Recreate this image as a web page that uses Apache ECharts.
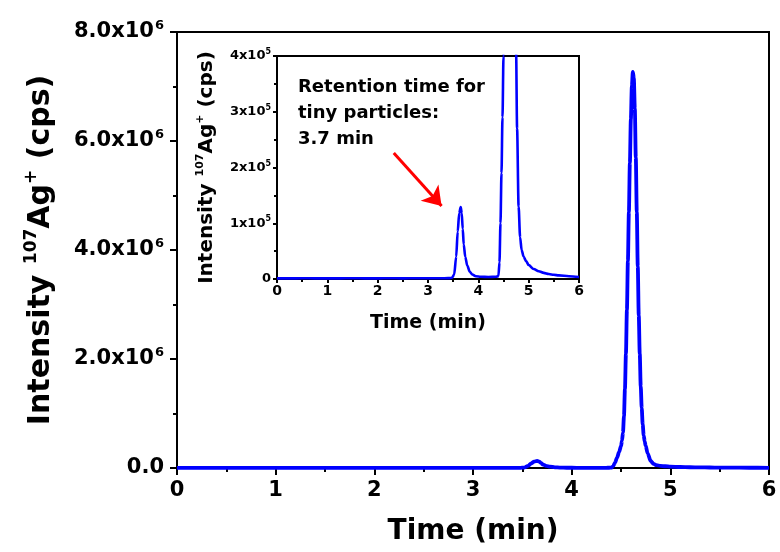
<!DOCTYPE html>
<html><head><meta charset="utf-8">
<script src="https://cdn.jsdelivr.net/npm/echarts@6/dist/echarts.min.js"></script>
<style>html,body{margin:0;padding:0;background:#fff}#c{width:780px;height:552px}</style>
</head><body><div id="c"></div>
<script>
// ---- data ----
const timeMin = [0, 0.25, 0.5, 0.75, 1, 1.25, 1.5, 1.75, 2, 2.25, 2.5, 2.75, 3, 3.25, 3.4, 3.45, 3.48, 3.52, 3.56, 3.59, 3.62, 3.65, 3.67, 3.69, 3.71, 3.74, 3.78, 3.83, 3.88, 3.95, 4.05, 4.2, 4.35, 4.38, 4.4, 4.42, 4.44, 4.46, 4.48, 4.5, 4.51, 4.52, 4.53, 4.54, 4.55, 4.56, 4.57, 4.58, 4.59, 4.6, 4.61, 4.62, 4.63, 4.64, 4.65, 4.66, 4.67, 4.68, 4.69, 4.7, 4.71, 4.72, 4.73, 4.74, 4.75, 4.77, 4.8, 4.83, 4.86, 4.9, 4.95, 5.0, 5.1, 5.2, 5.3, 5.4, 5.5, 5.6, 5.8, 6.0];
const intensityCps = [1200, 1100, 1300, 1200, 1100, 1200, 1300, 1200, 1200, 1300, 1200, 1300, 1300, 1400, 1500, 1700, 2500, 8000, 40000, 85000, 118000, 129000, 118000, 90000, 62000, 40000, 24000, 13000, 8000, 5000, 4000, 3500, 4000, 4500, 6000, 30000, 100000, 190000, 290000, 400000, 500000, 650000, 950000, 1450000, 2100000, 2900000, 3800000, 4700000, 5600000, 6400000, 7000000, 7270000, 7150000, 6600000, 5700000, 4700000, 3700000, 2800000, 2100000, 1500000, 1100000, 800000, 600000, 490000, 410000, 270000, 130000, 75000, 52000, 40000, 32000, 25000, 18000, 14000, 11000, 9000, 7500, 6500, 5000, 3500];
const xTickValues = [0, 1, 2, 3, 4, 5, 6];
const mainYTickValues = [0, 2e6, 4e6, 6e6, 8e6];
const mainYTickMantissa = ['0.0', '2.0', '4.0', '6.0', '8.0'];
const mainYExponent = '6';
const insetYTickValues = [0, 1e5, 2e5, 3e5, 4e5];
const insetYTickMantissa = ['0', '1', '2', '3', '4'];
const insetYExponent = '5';
const annotationLines = ['Retention time for', 'tiny particles:', '3.7 min'];
const arrowFrom = [2.32, 226000];
const arrowTo = [3.27, 131000];

const seriesData = timeMin.map((t, i) => [t, intensityCps[i]]);

const FONT = 'DejaVu Sans';
const BLACK = '#000';

function yTickFormatter(values, mant, exp) {
  return function (v) {
    const i = values.indexOf(v);
    if (i < 0) return '';
    if (v === 0) return '{m|' + mant[i] + '}';
    return '{m|' + mant[i] + 'x10}{e|' + exp + '}';
  };
}

function axisCommon(lineW, tickLen, minorLen) {
  return {
    axisLine: { show: true, onZero: false, lineStyle: { color: BLACK, width: lineW } },
    axisTick: { show: true, inside: false, length: tickLen, lineStyle: { color: BLACK, width: lineW } },
    minorTick: { show: true, splitNumber: 2, length: minorLen, lineStyle: { color: BLACK, width: lineW } },
    splitLine: { show: false }
  };
}

const chart = echarts.init(document.getElementById('c'), null, { renderer: 'canvas' });

const option = {
  animation: false,
  backgroundColor: '#fff',
  grid: [
    { left: 177, right: 11, top: 32, bottom: 84, show: true, borderColor: BLACK, borderWidth: 2, backgroundColor: 'transparent' },
    { left: 277, right: 201, top: 56, bottom: 273, show: true, borderColor: BLACK, borderWidth: 2, backgroundColor: '#fff' }
  ],
  xAxis: [
    Object.assign({
      type: 'value', gridIndex: 0, min: 0, max: 6, interval: 1,
      axisLabel: { margin: 12, fontFamily: FONT, fontWeight: 'bold', fontSize: 21, color: BLACK,
        formatter: v => xTickValues.indexOf(v) >= 0 ? String(v) : '' },
      name: 'Time (min)', nameLocation: 'middle', nameGap: 50,
      nameTextStyle: { fontFamily: FONT, fontWeight: 'bold', fontSize: 28, color: BLACK }
    }, axisCommon(2, 7, 4)),
    Object.assign({
      type: 'value', gridIndex: 1, min: 0, max: 6, interval: 1,
      axisLabel: { margin: 5, fontFamily: FONT, fontWeight: 'bold', fontSize: 14, color: BLACK,
        formatter: v => xTickValues.indexOf(v) >= 0 ? String(v) : '' },
      name: 'Time (min)', nameLocation: 'middle', nameGap: 35,
      nameTextStyle: { fontFamily: FONT, fontWeight: 'bold', fontSize: 19, color: BLACK }
    }, axisCommon(2, 4, 3))
  ],
  yAxis: [
    Object.assign({
      type: 'value', gridIndex: 0, min: 0, max: 8e6, interval: 2e6,
      axisLabel: { margin: 13, color: BLACK,
        formatter: yTickFormatter(mainYTickValues, mainYTickMantissa, mainYExponent),
        rich: {
          m: { fontFamily: FONT, fontWeight: 'bold', fontSize: 21, color: BLACK, lineHeight: 26 },
          e: { fontFamily: FONT, fontWeight: 'bold', fontSize: 13, color: BLACK, lineHeight: 13, verticalAlign: 'top', padding: [0, 0, 0, 1] }
        } },
      name: '{n|Intensity }{s|107}{n|Ag}{s|+}{n| (cps)}', nameLocation: 'middle', nameGap: 118, nameRotate: 90,
      nameTextStyle: { color: BLACK,
        rich: {
          n: { fontFamily: FONT, fontWeight: 'bold', fontSize: 30, color: BLACK, lineHeight: 36 },
          s: { fontFamily: FONT, fontWeight: 'bold', fontSize: 17, color: BLACK, lineHeight: 17, verticalAlign: 'top' }
        } }
    }, axisCommon(2, 7, 4)),
    Object.assign({
      type: 'value', gridIndex: 1, min: 0, max: 4e5, interval: 1e5,
      axisLabel: { margin: 6, color: BLACK,
        formatter: yTickFormatter(insetYTickValues, insetYTickMantissa, insetYExponent),
        rich: {
          m: { fontFamily: FONT, fontWeight: 'bold', fontSize: 13, color: BLACK, lineHeight: 16 },
          e: { fontFamily: FONT, fontWeight: 'bold', fontSize: 8, color: BLACK, lineHeight: 8, verticalAlign: 'top' }
        } },
      name: '{n|Intensity }{s|107}{n|Ag}{s|+}{n| (cps)}', nameLocation: 'middle', nameGap: 58, nameRotate: 90,
      nameTextStyle: { color: BLACK,
        rich: {
          n: { fontFamily: FONT, fontWeight: 'bold', fontSize: 20, color: BLACK, lineHeight: 24 },
          s: { fontFamily: FONT, fontWeight: 'bold', fontSize: 11, color: BLACK, lineHeight: 11, verticalAlign: 'top' }
        } }
    }, axisCommon(2, 4, 3))
  ],
  series: [
    {
      type: 'line', xAxisIndex: 0, yAxisIndex: 0, data: seriesData,
      showSymbol: false, symbol: 'none', smooth: 0.3, smoothMonotone: 'x',
      lineStyle: { color: '#0000ff', width: 3.8 }, z: 3
    },
    {
      type: 'line', xAxisIndex: 1, yAxisIndex: 1, data: seriesData,
      showSymbol: false, symbol: 'none', smooth: 0.3, smoothMonotone: 'x', clip: true,
      lineStyle: { color: '#0000ff', width: 2.6 }, z: 5,
      markLine: {
        silent: true, symbol: ['none', 'arrow'], symbolSize: [18, 18],
        lineStyle: { color: '#ff0000', width: 3, type: 'solid' },
        itemStyle: { color: '#ff0000' },
        label: { show: false },
        data: [[{ coord: arrowFrom }, { coord: arrowTo }]]
      }
    }
  ],
  graphic: [
    {
      type: 'text', left: 298, top: 74, z: 10,
      style: {
        text: annotationLines.join('\n'),
        fontFamily: FONT, fontWeight: 'bold', fontSize: 18, lineHeight: 26, fill: BLACK
      }
    }
  ]
};
chart.setOption(option);
</script>
</body></html>
